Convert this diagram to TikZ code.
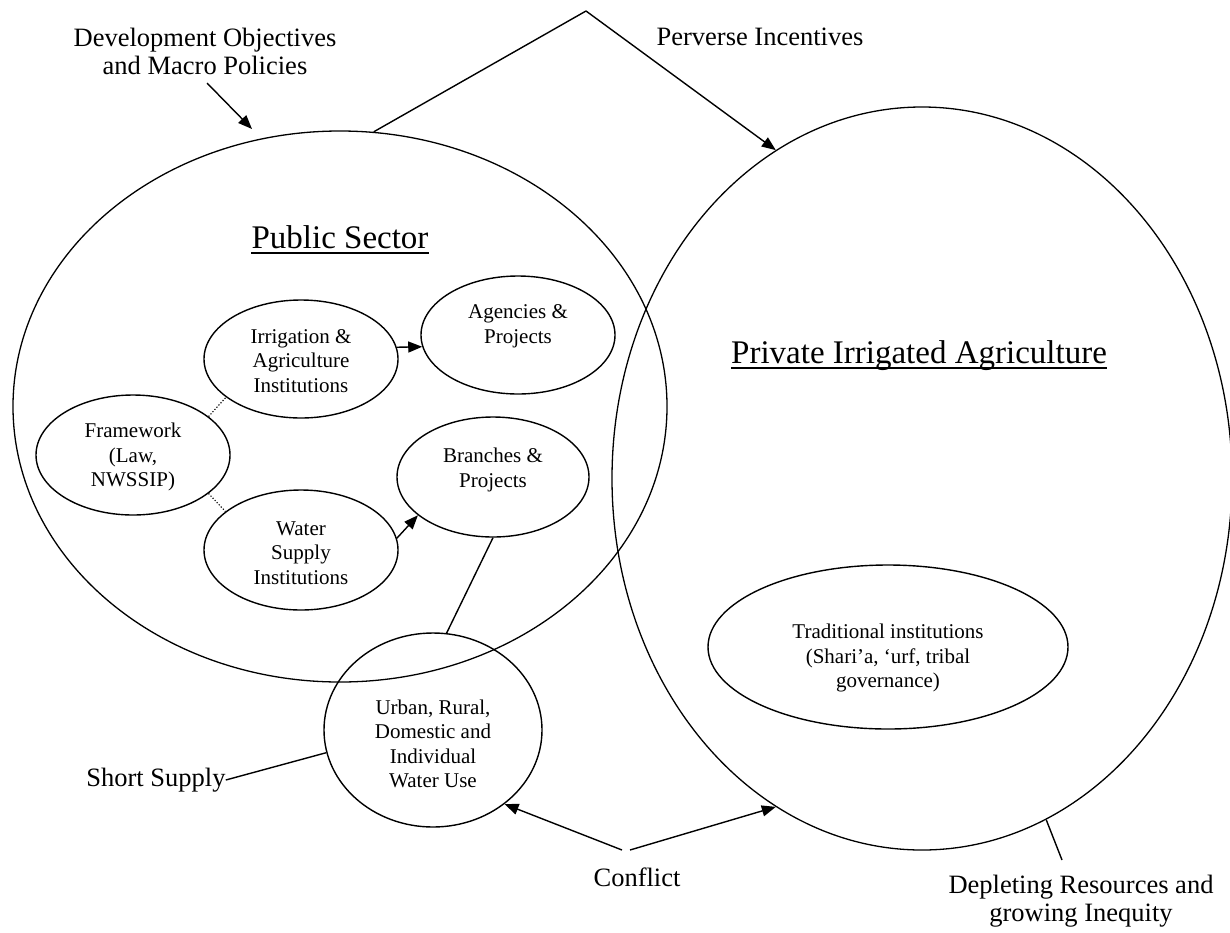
\documentclass[tikz,border=0pt]{standalone}
\usepackage{fontspec}
\setmainfont{Liberation Serif}
\usetikzlibrary{shapes.geometric,arrows.meta}

\begin{document}
\begin{tikzpicture}[x=1pt,y=-1pt,
  bigoval/.style={draw, ellipse, inner sep=0pt, line width=1.3pt},
  oval/.style={draw, ellipse, inner sep=0pt, line width=1.4pt},
  smalltext/.style={font=\fontsize{21}{24.5}\selectfont, align=center, inner sep=0pt},
  midtext/.style={font=\fontsize{26.5}{28}\selectfont, align=center, inner sep=0pt},
  titletext/.style={font=\fontsize{33}{38}\selectfont, inner sep=0pt, anchor=base},
  link/.style={line width=1.4pt},
  arr/.style={link, -{Triangle[length=14pt,width=11pt]}},
  dots/.style={line width=1.1pt, dash pattern=on 1.2pt off 1.8pt},
  uline/.style={line width=1.3pt}]
\useasboundingbox (0,0) rectangle (1230,932);

% the two sectors
\node[bigoval, minimum width=654pt, minimum height=551pt] (ps) at (340,406.5) {};
\node[bigoval, minimum width=620pt, minimum height=743pt] (pr) at (922,478.5) {};

% sector titles, underlined
\node[titletext] (pst) at (340,248) {Public Sector};
\draw[uline] ([yshift=-5pt]pst.base west) -- ([yshift=-5pt]pst.base east);
\node[titletext] (prt) at (919,363) {Private Irrigated Agriculture};
\draw[uline] ([yshift=-5pt]prt.base west) -- ([yshift=-5pt]prt.base east);

% institutions inside the public sector
\node[oval, minimum width=194pt, minimum height=120pt] (fw) at (133,455) {};
\node[smalltext] at (133,457) {Framework\\(Law,\\NWSSIP)};
\node[oval, minimum width=194pt, minimum height=118pt] (irr) at (301,359) {};
\node[smalltext] at (301,361) {Irrigation \&\\Agriculture\\Institutions};
\node[oval, minimum width=194pt, minimum height=120pt] (ws) at (301,550) {};
\node[smalltext] at (301,553) {Water\\Supply\\Institutions};
\node[oval, minimum width=194pt, minimum height=118pt] (ag) at (518,335) {};
\node[smalltext] at (518,326) {Agencies \&\\Projects};
\node[oval, minimum width=192pt, minimum height=120pt] (br) at (493,477) {};
\node[smalltext] at (493,470) {Branches \&\\Projects};

% water users
\node[oval, minimum width=218pt, minimum height=194pt] (ur) at (433,730) {};
\node[smalltext] at (433,744) {Urban, Rural,\\Domestic and\\Individual\\Water Use};

% traditional institutions
\node[oval, minimum width=360pt, minimum height=164pt] (tr) at (888,647) {};
\node[smalltext] at (888,658) {Traditional institutions\\(Shari’a, ‘urf, tribal\\governance)};

% outside labels
\node[midtext] (dev) at (205,51) {Development Objectives\\and Macro Policies};
\node[midtext] (pi) at (760,37) {Perverse Incentives};
\node[midtext] (ss) at (156,780) {Short Supply};
\node[midtext] (cf) at (637,877) {Conflict};
\node[midtext] (dep) at (1081,901) {Depleting Resources and\\growing Inequity};

\coordinate (devfoot) at (207,83);
\coordinate (devtip) at (252,129);
\coordinate (apex) at (586,11);
\coordinate (cfl) at (622,850);
\coordinate (cfr) at (630,850);
\coordinate (depfoot) at (1062,860);

% connectors
\draw[arr] (devfoot) -- (devtip);
\draw[link] (ps.83.3) -- (apex);
\draw[arr] (apex) -- (pr.114.2);
\draw[dots] (fw.27.5) -- (irr.207);
\draw[dots] (fw.-27) -- (ws.153);
\draw[arr] (irr.7) -- (ag.187);
\draw[arr] (ws.7) -- (br.207.8);
\draw[link] (br.south) -- (ur.82.9);
\draw[link] (ss.east) -- (ur.192.5);
\draw[arr] (cfl) -- (ur.-46.6);
\draw[arr] (cfr) -- (pr.-114.9);
\draw[link] (pr.-70.6) -- (depfoot);
\end{tikzpicture}
\end{document}
